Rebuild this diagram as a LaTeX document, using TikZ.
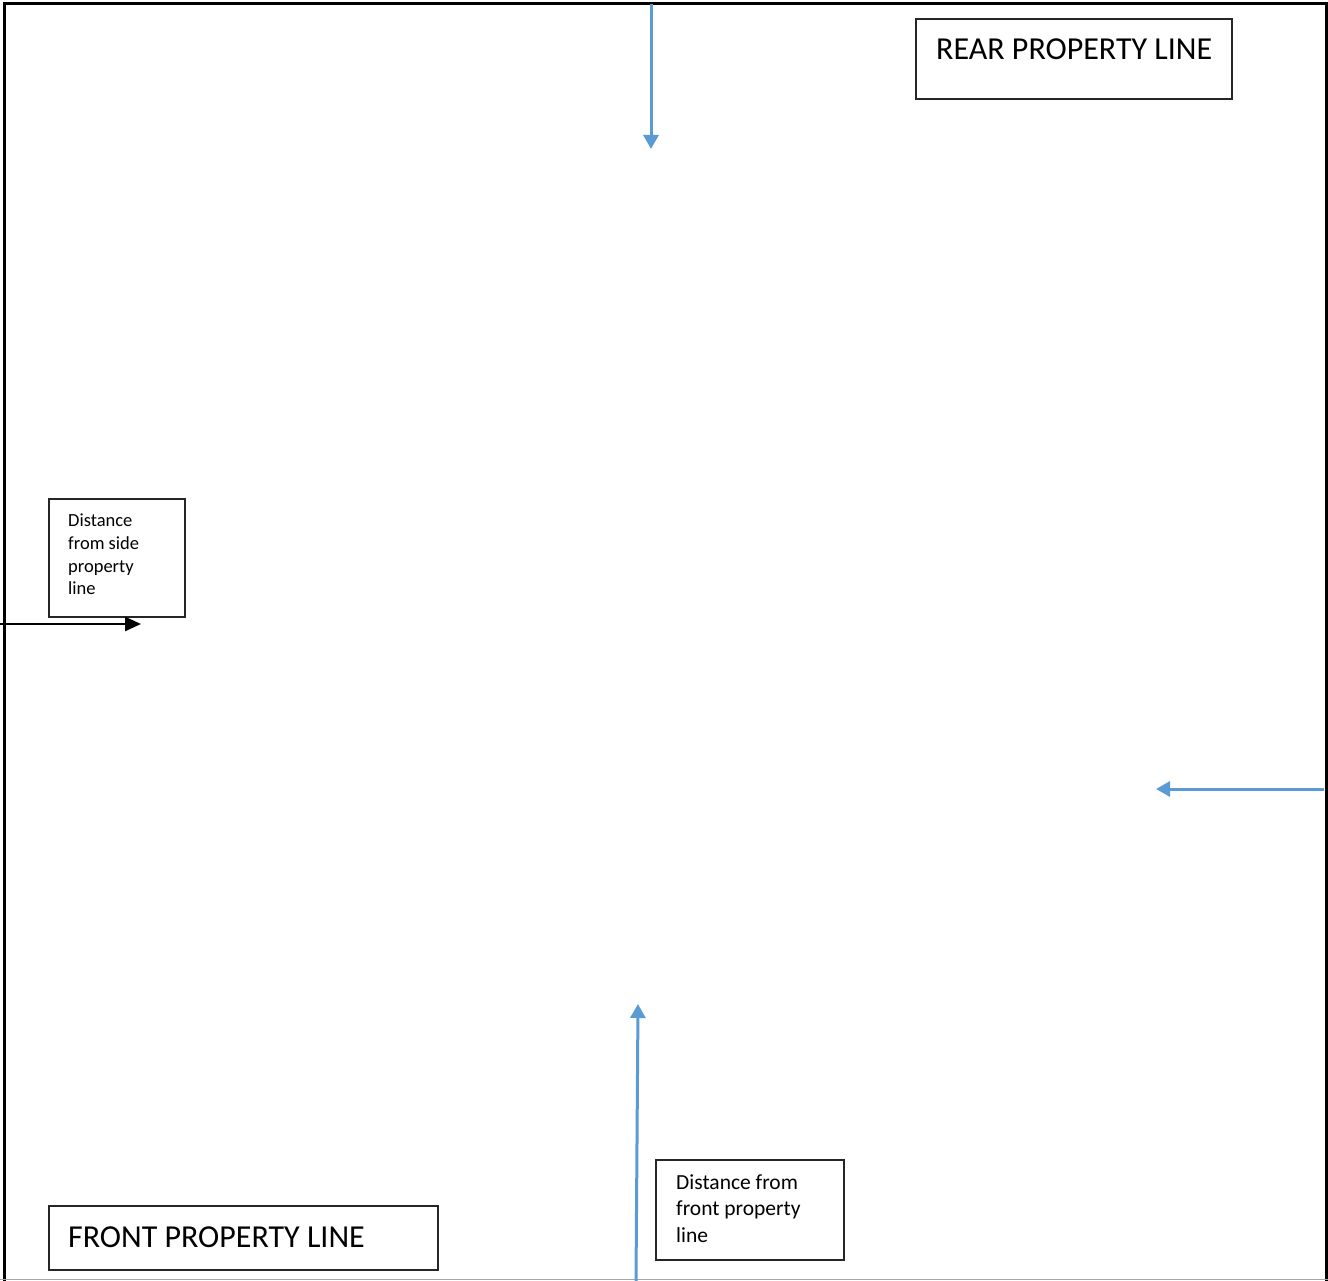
\documentclass[tikz,border=0pt]{standalone}
\usepackage{fontspec}
\setmainfont{Carlito}
\usetikzlibrary{arrows.meta}
\definecolor{arrowblue}{HTML}{5B9BD5}
\definecolor{boxline}{HTML}{262626}
\tikzset{
  lbox/.style={draw=boxline, line width=1.6pt, inner sep=0pt, anchor=north west},
  bigtxt/.style={anchor=base west, inner sep=0pt, font=\fontsize{32}{38}\selectfont},
  smalltxt/.style={anchor=base west, inner sep=0pt, align=left, font=\fontsize{18.5}{22.6}\selectfont},
  midtxt/.style={anchor=base west, inner sep=0pt, align=left, font=\fontsize{21.5}{26.5}\selectfont},
  bluearrow/.style={draw=arrowblue, line width=3pt, -{Triangle[length=14pt,width=15pt]}},
  blackarrow/.style={draw=black, line width=2.5pt, -{Triangle[length=16pt,width=14pt]}}
}
\begin{document}
\begin{tikzpicture}[x=1pt,y=-1pt]
\useasboundingbox (0,0) rectangle (1328,1281);
% outer border
\draw[line width=3pt] (4,1281) -- (4,4) -- (1326,4) -- (1326,1281);
\draw[gray!70, line width=1.5pt] (0,1279.5) -- (1328,1279.5);

% boxes
\node[lbox, minimum width=316pt, minimum height=80pt] (rear) at (915,18) {};
\node[bigtxt] (reart) at (936,60) {REAR PROPERTY LINE};

\node[lbox, minimum width=136pt, minimum height=118pt] (side) at (48,498) {};
\node[smalltxt, anchor=north west] (sidet) at (68,514) {Distance\\from side\\property\\line};

\node[lbox, minimum width=389pt, minimum height=64pt] (front) at (48,1205) {};
\node[bigtxt] (frontt) at (68,1247) {FRONT PROPERTY LINE};

\node[lbox, minimum width=188pt, minimum height=100pt] (fdist) at (655,1159) {};
\node[midtxt, anchor=north west] (fdistt) at (676,1174) {Distance from\\front property\\line};

% arrows
\coordinate (tA) at (651,4);
\coordinate (tB) at (651,149);
\coordinate (rA) at (1324,789);
\coordinate (rB) at (1156,789);
\coordinate (bA) at (636,1281);
\coordinate (bB) at (638,1004);
\coordinate (lA) at (0,624);
\coordinate (lB) at (141,624);
\draw[bluearrow] (tA) -- (tB);
\draw[bluearrow] (rA) -- (rB);
\draw[bluearrow] (bA) -- (bB);
\draw[blackarrow] (lA) -- (lB);
\end{tikzpicture}
\end{document}
